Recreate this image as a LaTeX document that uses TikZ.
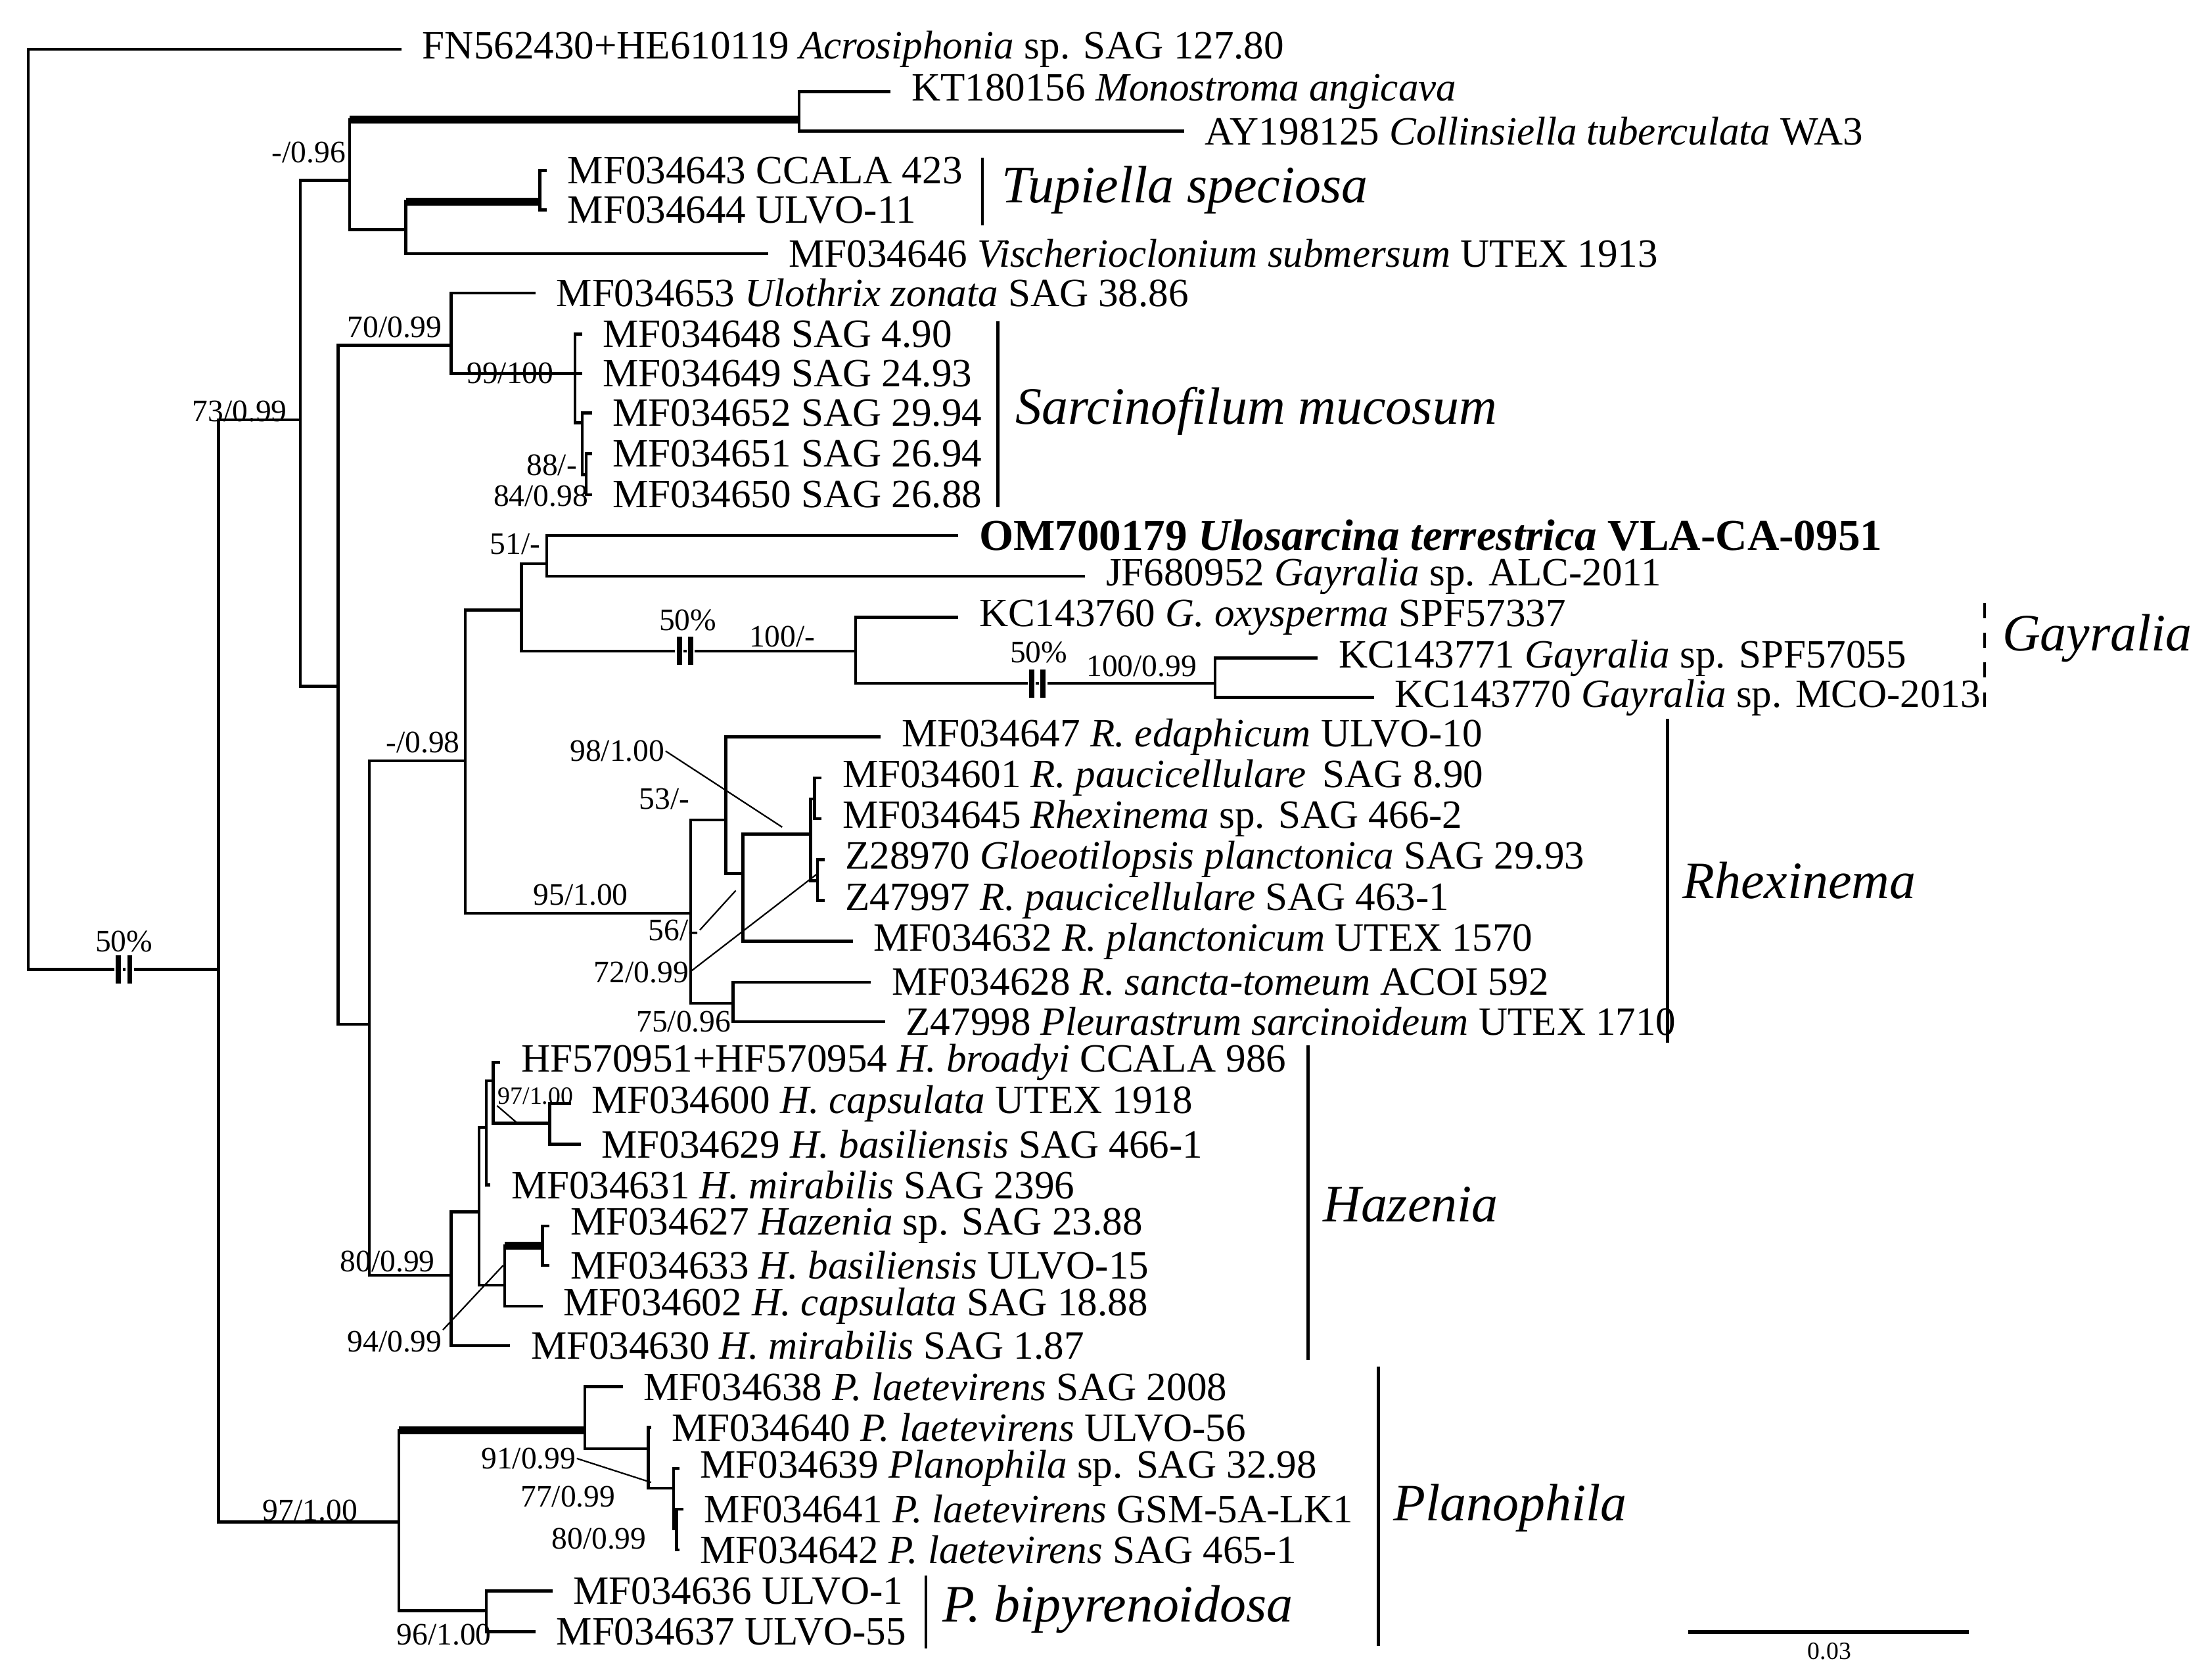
\documentclass[tikz,border=0pt]{standalone}
\usepackage{fontspec}
\setmainfont{Liberation Serif}
\begin{document}
\begin{tikzpicture}[x=0.01cm,y=-0.01cm,
  br/.style={line width=0.6pt},
  thk/.style={line width=1.6pt},
  tip/.style={anchor=west,inner sep=0pt,xshift=4pt,font=\fontsize{8.1}{9}\selectfont},
  sup/.style={inner sep=0pt,font=\fontsize{6.3}{7}\selectfont},
  cl/.style={anchor=west,inner sep=0pt,font=\fontsize{10.6}{12}\selectfont\itshape},
  bar/.style={line width=0.6pt},
  ptr/.style={line width=0.3pt}]
\useasboundingbox (0,0) rectangle (1568,1192);
% coordinates
\coordinate (root) at (20,360);
\coordinate (A) at (155,688);
\coordinate (B) at (213,298);
\coordinate (C) at (248,128);
\coordinate (MC) at (567,85);
\coordinate (Tup) at (288,163);
\coordinate (TS) at (383,143);
\coordinate (D) at (240,487);
\coordinate (E) at (320,245);
\coordinate (S1) at (408,265);
\coordinate (S2) at (413,300);
\coordinate (S3) at (416,337);
\coordinate (F) at (262,727);
\coordinate (G) at (330,540);
\coordinate (H) at (370,433);
\coordinate (U) at (388,400);
\coordinate (K) at (607,462);
\coordinate (K2) at (862,485);
\coordinate (R) at (490,648);
\coordinate (R1) at (515,582);
\coordinate (R2) at (520,712);
\coordinate (R3) at (527,620);
\coordinate (R4) at (575,592);
\coordinate (R5) at (578,567);
\coordinate (R6) at (580,625);
\coordinate (Hz) at (320,905);
\coordinate (Hz1) at (340,860);
\coordinate (Hz2) at (345,800);
\coordinate (Hz3) at (358,912);
\coordinate (Hz4) at (350,767);
\coordinate (Hz5) at (390,797);
\coordinate (Hz6) at (385,884);
\coordinate (P) at (283,1080);
\coordinate (P1) at (415,1015);
\coordinate (P2) at (345,1143);
\coordinate (P3) at (460,1028);
\coordinate (P4) at (478,1056);
\coordinate (P5) at (480,1085);
% tips
\coordinate (t1) at (285,35);
\coordinate (t2) at (632,65);
\coordinate (t3) at (840,93);
\coordinate (t4) at (388,121);
\coordinate (t5) at (388,149);
\coordinate (t6) at (545,180);
\coordinate (t7) at (380,208);
\coordinate (t8) at (413,237);
\coordinate (t9) at (413,265);
\coordinate (t10) at (420,293);
\coordinate (t11) at (420,322);
\coordinate (t12) at (420,351);
\coordinate (t13) at (680,380);
\coordinate (t14) at (770,409);
\coordinate (t15) at (680,438);
\coordinate (t16) at (935,467);
\coordinate (t17) at (975,495);
\coordinate (t18) at (625,523);
\coordinate (t19) at (583,552);
\coordinate (t20) at (583,581);
\coordinate (t21) at (585,610);
\coordinate (t22) at (585,639);
\coordinate (t23) at (605,668);
\coordinate (t24) at (618,697);
\coordinate (t25) at (628,725);
\coordinate (t26) at (355,754);
\coordinate (t27) at (405,783);
\coordinate (t28) at (412,812);
\coordinate (t29) at (348,841);
\coordinate (t30) at (390,870);
\coordinate (t31) at (390,898);
\coordinate (t32) at (385,927);
\coordinate (t33) at (362,955);
\coordinate (t34) at (442,984);
\coordinate (t35) at (462,1013);
\coordinate (t36) at (482,1042);
\coordinate (t37) at (485,1071);
\coordinate (t38) at (482,1100);
\coordinate (t39) at (392,1129);
\coordinate (t40) at (380,1158);
% branches
\draw[br] (root) |- (t1);
\draw[br] (root) |- (A);
\draw[br] (A) |- (B);
\draw[br] (A) |- (P);
\draw[br] (B) |- (C);
\draw[br] (B) |- (D);
\draw[br] (C) |- (MC);
\draw[thk] (C |- MC) -- (MC);
\draw[br] (C) |- (Tup);
\draw[br] (MC) |- (t2);
\draw[br] (MC) |- (t3);
\draw[br] (Tup) |- (TS);
\draw[thk] (Tup |- TS) -- (TS);
\draw[br] (Tup) |- (t6);
\draw[br] (TS) |- (t4);
\draw[br] (TS) |- (t5);
\draw[br] (D) |- (E);
\draw[br] (D) |- (F);
\draw[br] (E) |- (t7);
\draw[br] (E) |- (S1);
\draw[br] (S1) |- (t8);
\draw[br] (S1) |- (t9);
\draw[br] (S1) |- (S2);
\draw[br] (S2) |- (t10);
\draw[br] (S2) |- (S3);
\draw[br] (S3) |- (t11);
\draw[br] (S3) |- (t12);
\draw[br] (F) |- (G);
\draw[br] (F) |- (Hz);
\draw[br] (G) |- (H);
\draw[br] (G) |- (R);
\draw[br] (H) |- (U);
\draw[br] (H) |- (K);
\draw[br] (U) |- (t13);
\draw[br] (U) |- (t14);
\draw[br] (K) |- (t15);
\draw[br] (K) |- (K2);
\draw[br] (K2) |- (t16);
\draw[br] (K2) |- (t17);
\draw[br] (R) |- (R1);
\draw[br] (R) |- (R2);
\draw[br] (R1) |- (t18);
\draw[br] (R1) |- (R3);
\draw[br] (R3) |- (R4);
\draw[br] (R3) |- (t23);
\draw[br] (R4) |- (R5);
\draw[br] (R4) |- (R6);
\draw[br] (R5) |- (t19);
\draw[br] (R5) |- (t20);
\draw[br] (R6) |- (t21);
\draw[br] (R6) |- (t22);
\draw[br] (R2) |- (t24);
\draw[br] (R2) |- (t25);
\draw[br] (Hz) |- (Hz1);
\draw[br] (Hz) |- (t33);
\draw[br] (Hz1) |- (Hz2);
\draw[br] (Hz1) |- (Hz3);
\draw[br] (Hz2) |- (Hz4);
\draw[br] (Hz2) |- (t29);
\draw[br] (Hz4) |- (t26);
\draw[br] (Hz4) |- (Hz5);
\draw[br] (Hz5) |- (t27);
\draw[br] (Hz5) |- (t28);
\draw[br] (Hz3) |- (Hz6);
\draw[thk] (Hz3 |- Hz6) -- (Hz6);
\draw[br] (Hz3) |- (t32);
\draw[br] (Hz6) |- (t30);
\draw[br] (Hz6) |- (t31);
\draw[br] (P) |- (P1);
\draw[thk] (P |- P1) -- (P1);
\draw[br] (P) |- (P2);
\draw[br] (P1) |- (t34);
\draw[br] (P1) |- (P3);
\draw[br] (P3) |- (t35);
\draw[br] (P3) |- (P4);
\draw[br] (P4) |- (t36);
\draw[br] (P4) |- (P5);
\draw[br] (P5) |- (t37);
\draw[br] (P5) |- (t38);
\draw[br] (P2) |- (t39);
\draw[br] (P2) |- (t40);
% break marks
\foreach \bx/\by in {84/688,92/688,482/462,490/462,732/485,740/485}
  \fill[white] (\bx-3,\by-3) rectangle (\bx+3,\by+3);
\draw[line width=1pt] (84,678) -- (84,698) (92,678) -- (92,698);
\draw[line width=1pt] (482,452) -- (482,472) (490,452) -- (490,472);
\draw[line width=1pt] (732,475) -- (732,495) (740,475) -- (740,495);
% tip labels
\node[tip] (l1) at (t1) {FN562430+HE610119 \textit{Acrosiphonia} sp. SAG 127.80};
\node[tip] (l2) at (t2) {KT180156 \textit{Monostroma angicava}};
\node[tip] (l3) at (t3) {AY198125 \textit{Collinsiella tuberculata} WA3};
\node[tip] (l4) at (t4) {MF034643 CCALA 423};
\node[tip] (l5) at (t5) {MF034644 ULVO-11};
\node[tip] (l6) at (t6) {MF034646 \textit{Vischerioclonium submersum} UTEX 1913};
\node[tip] (l7) at (t7) {MF034653 \textit{Ulothrix zonata} SAG 38.86};
\node[tip] (l8) at (t8) {MF034648 SAG 4.90};
\node[tip] (l9) at (t9) {MF034649 SAG 24.93};
\node[tip] (l10) at (t10) {MF034652 SAG 29.94};
\node[tip] (l11) at (t11) {MF034651 SAG 26.94};
\node[tip] (l12) at (t12) {MF034650 SAG 26.88};
\node[tip,font=\fontsize{8.9}{10}\selectfont\bfseries] (l13) at (t13) {OM700179 \textit{Ulosarcina terrestrica} VLA-CA-0951};
\node[tip] (l14) at (t14) {JF680952 \textit{Gayralia} sp. ALC-2011};
\node[tip] (l15) at (t15) {KC143760 \textit{G. oxysperma} SPF57337};
\node[tip] (l16) at (t16) {KC143771 \textit{Gayralia} sp. SPF57055};
\node[tip] (l17) at (t17) {KC143770 \textit{Gayralia} sp. MCO-2013};
\node[tip] (l18) at (t18) {MF034647 \textit{R. edaphicum} ULVO-10};
\node[tip] (l19) at (t19) {MF034601 \textit{R. paucicellulare}\, SAG 8.90};
\node[tip] (l20) at (t20) {MF034645 \textit{Rhexinema} sp. SAG 466-2};
\node[tip] (l21) at (t21) {Z28970 \textit{Gloeotilopsis planctonica} SAG 29.93};
\node[tip] (l22) at (t22) {Z47997 \textit{R. paucicellulare} SAG 463-1};
\node[tip] (l23) at (t23) {MF034632 \textit{R. planctonicum} UTEX 1570};
\node[tip] (l24) at (t24) {MF034628 \textit{R. sancta-tomeum} ACOI 592};
\node[tip] (l25) at (t25) {Z47998 \textit{Pleurastrum sarcinoideum} UTEX 1710};
\node[tip] (l26) at (t26) {HF570951+HF570954 \textit{H. broadyi} CCALA 986};
\node[tip] (l27) at (t27) {MF034600 \textit{H. capsulata} UTEX 1918};
\node[tip] (l28) at (t28) {MF034629 \textit{H. basiliensis} SAG 466-1};
\node[tip] (l29) at (t29) {MF034631 \textit{H. mirabilis} SAG 2396};
\node[tip] (l30) at (t30) {MF034627 \textit{Hazenia} sp. SAG 23.88};
\node[tip] (l31) at (t31) {MF034633 \textit{H. basiliensis} ULVO-15};
\node[tip] (l32) at (t32) {MF034602 \textit{H. capsulata} SAG 18.88};
\node[tip] (l33) at (t33) {MF034630 \textit{H. mirabilis} SAG 1.87};
\node[tip] (l34) at (t34) {MF034638 \textit{P. laetevirens} SAG 2008};
\node[tip] (l35) at (t35) {MF034640 \textit{P. laetevirens} ULVO-56};
\node[tip] (l36) at (t36) {MF034639 \textit{Planophila} sp. SAG 32.98};
\node[tip] (l37) at (t37) {MF034641 \textit{P. laetevirens} GSM-5A-LK1};
\node[tip] (l38) at (t38) {MF034642 \textit{P. laetevirens} SAG 465-1};
\node[tip] (l39) at (t39) {MF034636 ULVO-1};
\node[tip] (l40) at (t40) {MF034637 ULVO-55};
% support labels
\node[sup,anchor=east] (s1) at (246,108) {-/0.96};
\node[sup] (s2) at (170,292) {73/0.99};
\node[sup] (s3) at (280,232) {70/0.99};
\node[sup] (s4) at (362,265) {99/100};
\node[sup,anchor=east] (s5) at (410,330) {88/-};
\node[sup,anchor=east] (s6) at (418,352) {84/0.98};
\node[sup,anchor=east] (s7) at (384,386) {51/-};
\node[sup] (s8) at (488,440) {50\%};
\node[sup] (s9) at (555,452) {100/-};
\node[sup] (s10) at (737,463) {50\%};
\node[sup] (s11) at (810,473) {100/0.99};
\node[sup] (s12) at (300,527) {-/0.98};
\node[sup] (s13) at (412,635) {95/1.00};
\node[sup] (s14) at (438,533) {98/1.00};
\node[sup,anchor=east] (s15) at (490,567) {53/-};
\node[sup] (s16) at (478,660) {56/-};
\node[sup] (s17) at (455,690) {72/0.99};
\node[sup] (s18) at (485,725) {75/0.96};
\node[sup,font=\fontsize{5}{6}\selectfont] (s19) at (380,778) {97/1.00};
\node[sup] (s20) at (275,895) {80/0.99};
\node[sup] (s21) at (280,952) {94/0.99};
\node[sup] (s22) at (220,1072) {97/1.00};
\node[sup] (s23) at (375,1035) {91/0.99};
\node[sup] (s24) at (403,1062) {77/0.99};
\node[sup] (s25) at (425,1092) {80/0.99};
\node[sup] (s26) at (315,1160) {96/1.00};
\node[sup] (s27) at (88,668) {50\%};
% pointer lines
\coordinate (q1) at (555,587);
\coordinate (q2) at (522,632);
\coordinate (q3) at (580,620);
\coordinate (q4) at (367,797);
\coordinate (q5) at (357,898);
\coordinate (q6) at (462,1052);
\draw[ptr] (s14.east) -- (q1);
\draw[ptr] (s16.east) -- (q2);
\draw[ptr] (s17.east) -- (q3);
\draw[ptr] (s19.south west) -- (q4);
\draw[ptr] (s21.north east) -- (q5);
\draw[ptr] (s23.east) -- (q6);
% clade bars
\draw[bar] (697,112) -- (697,160);
\node[cl] (c1) at (710,135) {Tupiella speciosa};
\draw[bar] (708,228) -- (708,360);
\node[cl] (c2) at (720,292) {Sarcinofilum mucosum};
\draw[bar,dashed] (1408,428) -- (1408,505);
\node[cl] (c3) at (1420,453) {Gayralia};
\draw[bar] (1183,510) -- (1183,740);
\node[cl] (c4) at (1193,625) {Rhexinema};
\draw[bar] (928,742) -- (928,965);
\node[cl] (c5) at (938,855) {Hazenia};
\draw[bar] (978,970) -- (978,1168);
\node[cl] (c6) at (988,1070) {Planophila};
\draw[bar] (657,1118) -- (657,1170);
\node[cl] (c7) at (668,1142) {P. bipyrenoidosa};
% scale bar
\coordinate (sb1) at (1198,1158);
\coordinate (sb2) at (1397,1158);
\draw[line width=0.8pt] (sb1) -- (sb2);
\node[sup,font=\fontsize{5}{6}\selectfont] (sbl) at (1298,1172) {0.03};
\end{tikzpicture}
\end{document}
